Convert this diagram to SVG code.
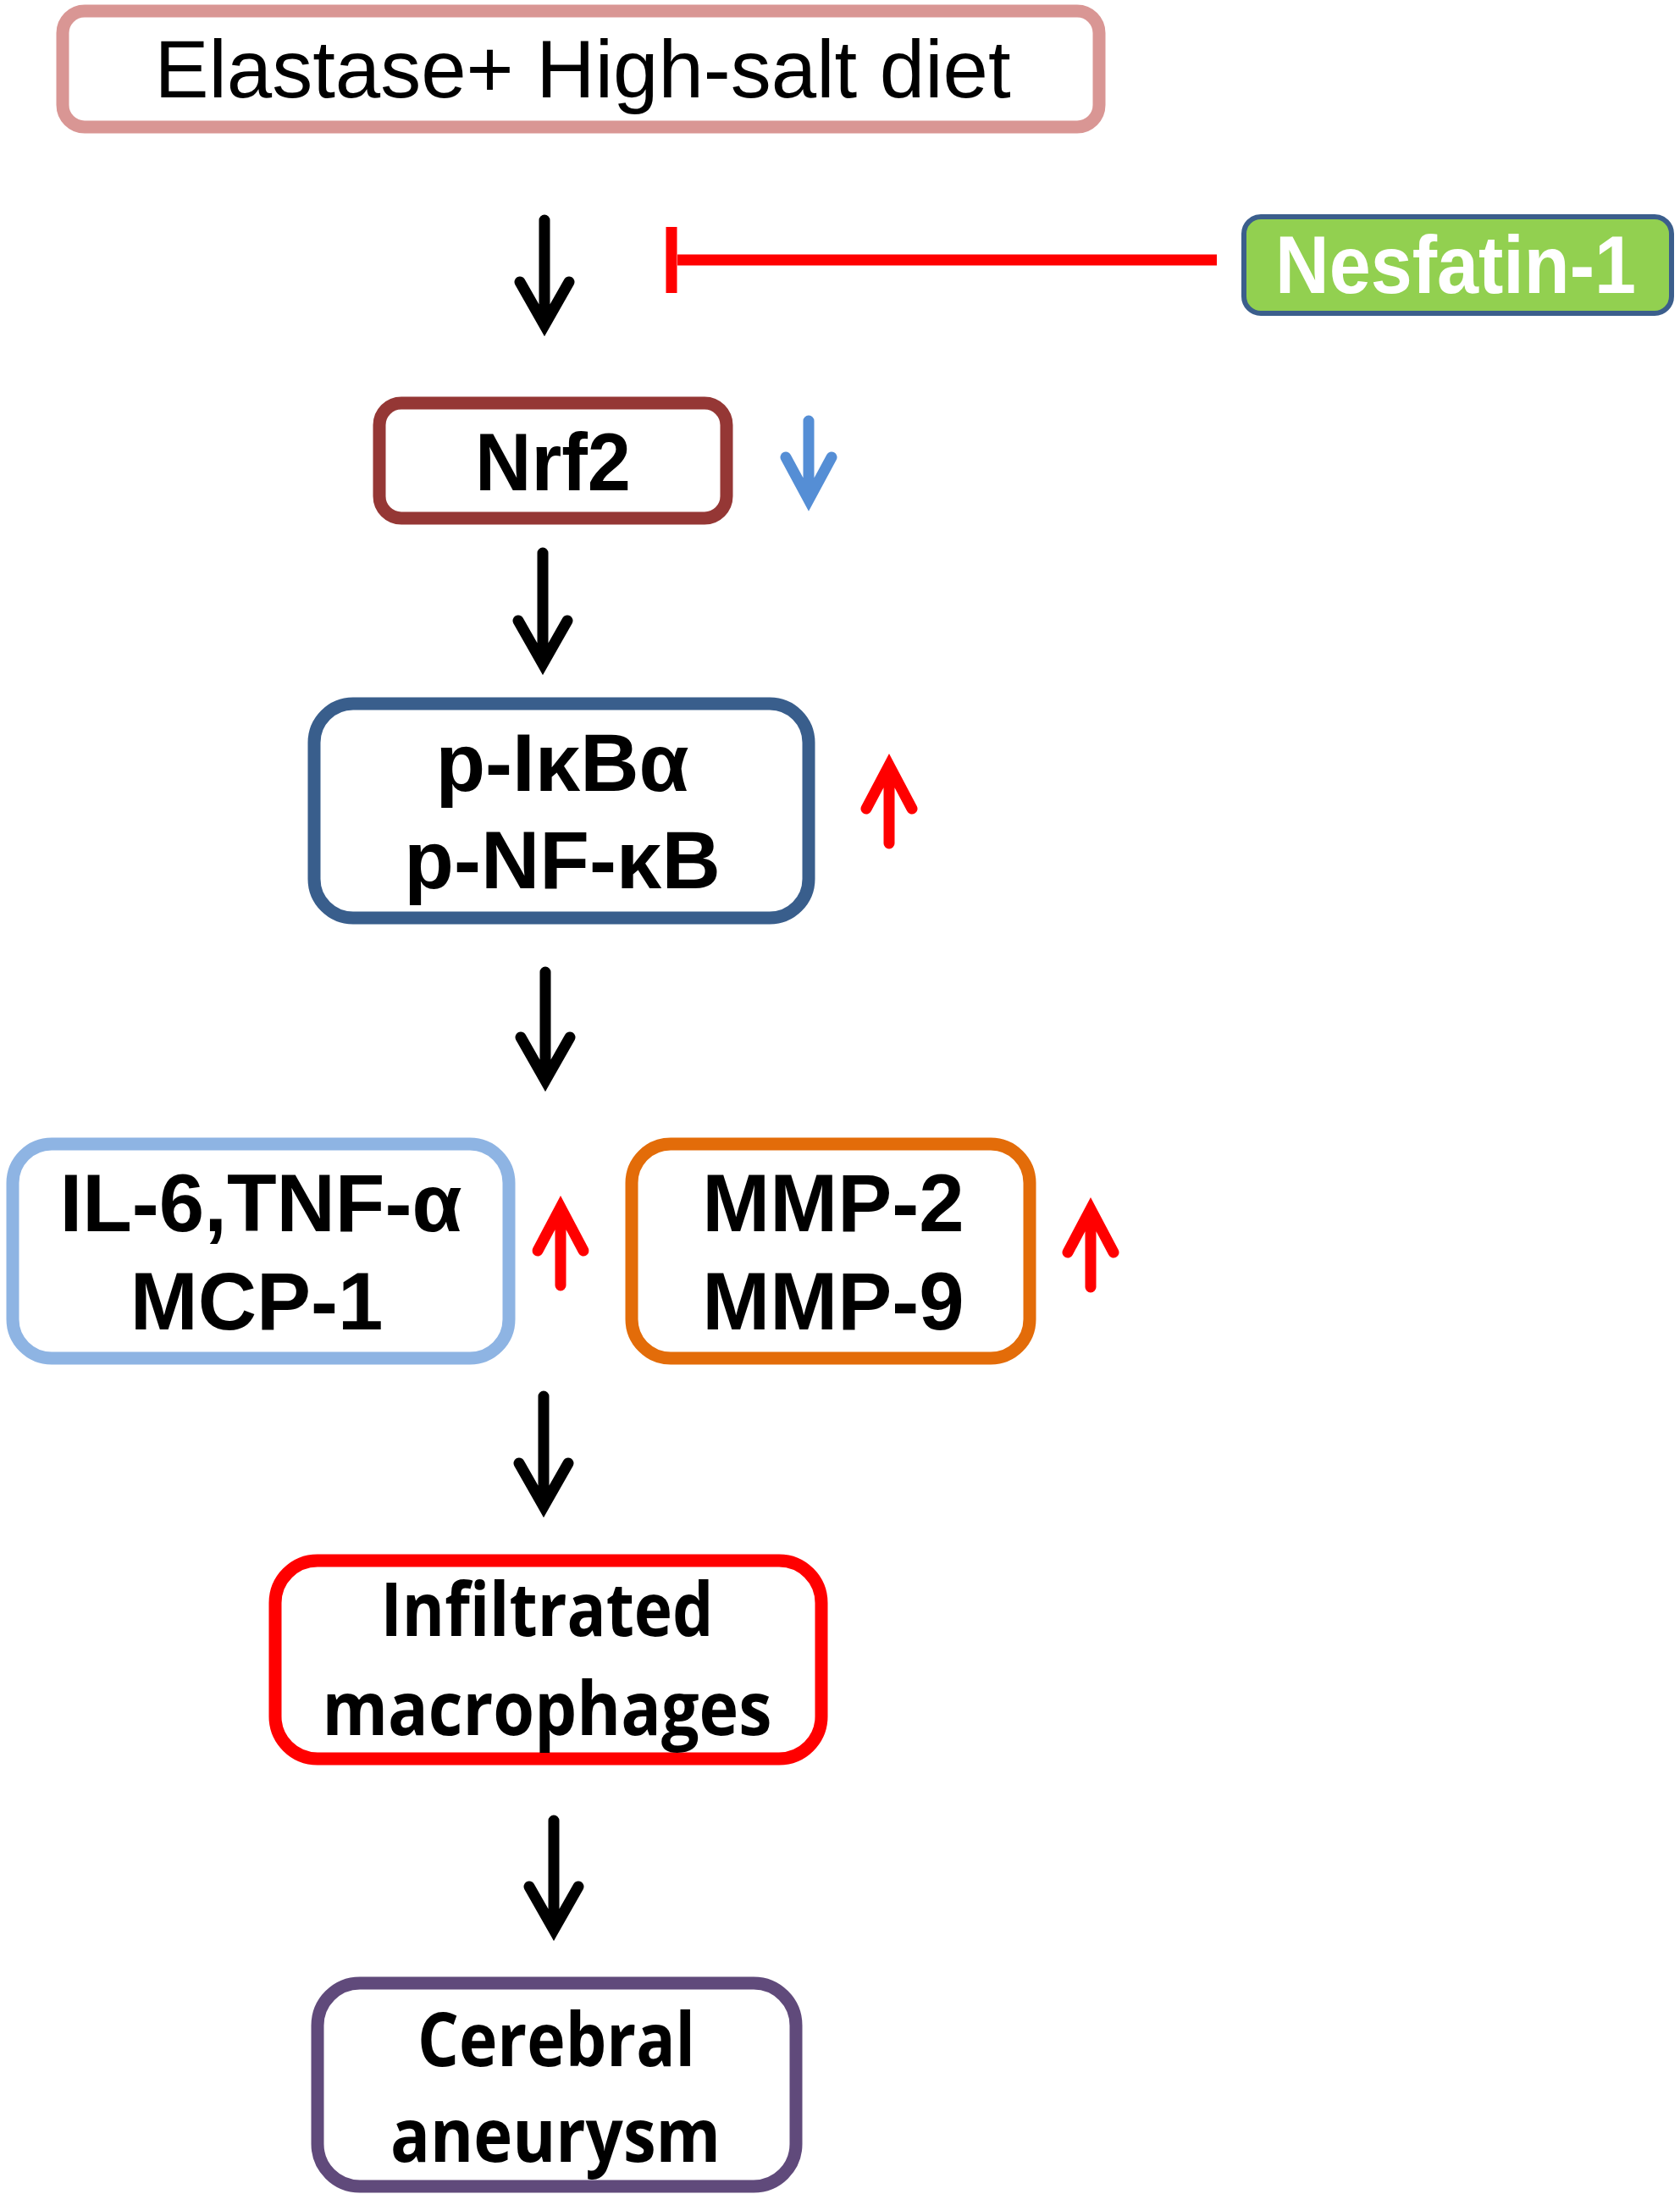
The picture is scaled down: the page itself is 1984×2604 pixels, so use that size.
<svg xmlns="http://www.w3.org/2000/svg" width="1984" height="2604" viewBox="0 0 1984 2604">
<style>
.box{fill:#fff;stroke-width:15}
.t{font-family:"Liberation Sans",Arial,sans-serif;font-size:96px;fill:#000;text-anchor:middle}
.b{font-weight:bold}
.c{font-family:"Open Sans","Noto Sans",sans-serif;font-weight:bold;font-size:88px;fill:#000;text-anchor:middle}
.arr{fill:none;stroke-width:13;stroke-linecap:round;stroke-linejoin:miter;stroke-miterlimit:10}
.k{stroke:#000}
.r{stroke:#FF0000}
.bl{stroke:#558ED5}
</style>
<rect width="1984" height="2604" fill="#fff"/>
<g id="elastase">
<rect class="box" x="74" y="13" width="1224" height="137" rx="26" stroke="#D99694"/>
<text class="t" x="688" y="115">Elastase+ High-salt diet</text>
</g>
<g id="nesfatin">
<rect x="1469" y="256" width="505" height="114" rx="20" fill="#92D050" stroke="#3B5E8C" stroke-width="6"/>
<text class="t b" x="1719" y="346" fill="#fff" style="fill:#fff" textLength="426" lengthAdjust="spacingAndGlyphs">Nesfatin-1</text>
</g>
<g id="nrf2">
<rect class="box" x="448" y="476" width="410" height="136" rx="26" stroke="#953735"/>
<text class="t b" x="653" y="579" textLength="184" lengthAdjust="spacingAndGlyphs">Nrf2</text>
</g>
<g id="nfkb">
<rect class="box" x="371" y="831" width="584" height="253" rx="46" stroke="#395E8C"/>
<text class="t b" x="664" y="934">p-IκBα</text>
<text class="t b" x="664" y="1049">p-NF-κB</text>
</g>
<g id="cytokines">
<rect class="box" x="15" y="1351" width="586" height="253" rx="46" stroke="#8EB4E3"/>
<text class="t b" x="308" y="1454">IL-6,TNF-α</text>
<text class="t b" x="303" y="1570">MCP-1</text>
</g>
<g id="mmp">
<rect class="box" x="746" y="1351" width="470" height="253" rx="46" stroke="#E36C09"/>
<text class="t b" x="984" y="1454">MMP-2</text>
<text class="t b" x="984" y="1570">MMP-9</text>
</g>
<g id="macrophages">
<rect class="box" x="325" y="1843" width="645" height="234" rx="50" stroke="#FF0000"/>
<text class="c" x="646" y="1932" textLength="393" lengthAdjust="spacingAndGlyphs">Infiltrated</text>
<text class="c" x="646" y="2049" textLength="531" lengthAdjust="spacingAndGlyphs">macrophages</text>
</g>
<g id="aneurysm">
<rect class="box" x="375" y="2342" width="565" height="240" rx="50" stroke="#604A7B"/>
<text class="c" x="657" y="2440" font-size="87" textLength="328" lengthAdjust="spacingAndGlyphs">Cerebral</text>
<text class="c" x="656" y="2553" font-size="87" textLength="390" lengthAdjust="spacingAndGlyphs">aneurysm</text>
</g>
<g id="connectors">
<path class="arr k" d="M643 260V384M614 333L643 384L672 333"/>
<path class="arr k" d="M641 653V784M612 733L641 784L670 733"/>
<path class="arr k" d="M644 1148V1276M615 1225L644 1276L673 1225"/>
<path class="arr k" d="M642 1649V1779M613 1728L642 1779L671 1728"/>
<path class="arr k" d="M654 2150V2279M625 2228L654 2279L683 2228"/>
<path d="M800 307H1437" stroke="#FF0000" stroke-width="13" fill="none"/>
<path d="M793 268V346" stroke="#FF0000" stroke-width="13" fill="none"/>
<path class="arr bl" d="M955 497V590M928 540L955 590L982 540"/>
<path class="arr r" d="M1050 996V904M1023 955L1050 904L1077 955"/>
<path class="arr r" d="M662 1518V1426M635 1477L662 1426L689 1477"/>
<path class="arr r" d="M1288 1520V1428M1261 1479L1288 1428L1315 1479"/>
</g>
</svg>
